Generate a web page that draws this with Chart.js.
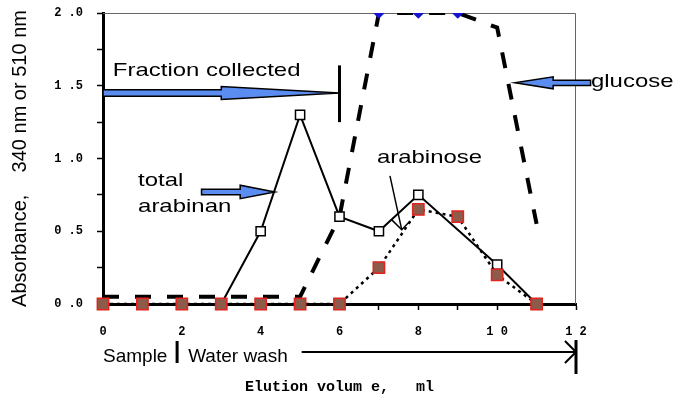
<!DOCTYPE html>
<html>
<head>
<meta charset="utf-8">
<script src="https://cdn.jsdelivr.net/npm/chart.js@4"></script>
<style>html,body{margin:0;padding:0;background:#fff}canvas{display:block}</style>
</head>
<body>
<canvas id="elutionChart" width="677" height="399"></canvas>
<script>
// elution volume, ml (one fraction per ml)
const volumes = [0, 1, 2, 3, 4, 5, 6, 7, 8, 9, 10, 11];
const totalArabinan = [0, 0, 0, 0, 0.5, 1.3, 0.6, 0.5, 0.75, null, 0.27, 0];
const arabinose = [0, 0, 0, 0, 0, 0, 0, 0.25, 0.65, 0.6, 0.2, 0];
const glucose = [0.05, 0.05, 0.05, 0.05, 0.05, 0.05, 0.6, 2.0, 2.0, 2.0, 1.9, 0.55];
const xTickLabels = [0, 2, 4, 6, 8, 10, 12];
const yTickLabels = [0, 0.5, 1.0, 1.5, 2.0];

const toPoints = (vals) => volumes.map((x, i) => ({ x, y: vals[i] }));
const arrowBlue = "#5b8cf0";
const labelFont = '19px "Liberation Sans", Arial, sans-serif';

function blockArrow(ctx, x0, x1, tip, y, s, h) {
    ctx.beginPath();
    ctx.moveTo(x0, y - s);
    ctx.lineTo(x1, y - s);
    ctx.lineTo(x1, y - h);
    ctx.lineTo(tip, y);
    ctx.lineTo(x1, y + h);
    ctx.lineTo(x1, y + s);
    ctx.lineTo(x0, y + s);
    ctx.closePath();
    ctx.fillStyle = arrowBlue;
    ctx.fill();
    ctx.lineWidth = 1.5;
    ctx.strokeStyle = "#000";
    ctx.stroke();
}

function wideText(ctx, text, x, y, sx) {
    ctx.save();
    ctx.fillStyle = "#000";
    ctx.translate(x, y);
    ctx.scale(sx, 1);
    ctx.fillText(text, 0, 0);
    ctx.restore();
}

function line(ctx, pts, w) {
    ctx.beginPath();
    ctx.moveTo(pts[0][0], pts[0][1]);
    for (let i = 1; i < pts.length; i++) ctx.lineTo(pts[i][0], pts[i][1]);
    ctx.lineWidth = w;
    ctx.strokeStyle = "#000";
    ctx.stroke();
}

const notes = {
    id: "notes",
    beforeDatasetsDraw(chart) {
        const { ctx, chartArea: a } = chart;
        ctx.save();
        ctx.strokeStyle = "#666";
        ctx.lineWidth = 1;
        ctx.beginPath();
        ctx.moveTo(a.left, a.top + 0.5);
        ctx.lineTo(a.right - 0.5, a.top + 0.5);
        ctx.lineTo(a.right - 0.5, a.bottom);
        ctx.stroke();
        ctx.restore();
    },
    afterDraw(chart) {
        const { ctx, chartArea: a, scales } = chart;
        const X = (v) => scales.x.getPixelForValue(v);
        const Y = (v) => scales.y.getPixelForValue(v);
        const b = a.bottom;
        ctx.save();
        ctx.font = labelFont;
        ctx.textAlign = "left";
        ctx.textBaseline = "alphabetic";

        // fraction collected
        blockArrow(ctx, X(0), X(3), X(6), Y(1.45), 3.3, 6.5);
        line(ctx, [[X(6), Y(1.64)], [X(6), Y(1.25)]], 3);
        wideText(ctx, "Fraction collected", X(0.25), Y(1.57), 1.26);

        // glucose
        blockArrow(ctx, X(12.37), X(11.42), X(10.45), Y(1.52), 2.7, 6);
        wideText(ctx, "glucose", X(12.38), Y(1.49), 1.26);

        // total arabinan
        blockArrow(ctx, X(2.5), X(3.48), X(4.36), Y(0.77), 2.7, 6.7);
        wideText(ctx, "total", X(0.89), Y(0.81), 1.26);
        wideText(ctx, "arabinan", X(0.89), Y(0.63), 1.26);

        // arabinose
        wideText(ctx, "arabinose", X(6.95), Y(0.97), 1.26);
        line(ctx, [[X(7.28), Y(0.88)], [X(7.58), Y(0.51)]], 1.5);
        line(ctx, [[X(7.32), Y(0.58)], [X(7.58), Y(0.51)], [X(7.79), Y(0.57)]], 1.5);

        // sample / water wash bar under the axis
        wideText(ctx, "Sample", X(0), b + 58, 1);
        line(ctx, [[X(1.88), b + 37], [X(1.88), b + 59]], 3);
        wideText(ctx, "Water wash", X(2.16), b + 58, 1);
        line(ctx, [[X(5.04), b + 48], [X(12), b + 48]], 2);
        line(ctx, [[X(11.72), b + 37], [X(12), b + 48], [X(11.72), b + 59]], 2);
        line(ctx, [[X(12), b + 36], [X(12), b + 70]], 3);
        ctx.restore();
    }
};

const tickFont = { family: "'Liberation Mono', 'Courier New', monospace", weight: "bold", size: 12 };

new Chart(document.getElementById("elutionChart"), {
    type: "line",
    data: {
        datasets: [
            {
                label: "arabinose",
                data: toPoints(arabinose),
                order: 0,
                clip: false,
                borderColor: "#000",
                borderWidth: 2.5,
                borderDash: [3, 4],
                pointStyle: "rect",
                pointRadius: 8,
                pointBackgroundColor: "#8e5a4a",
                pointBorderColor: "#e3231f",
                pointBorderWidth: 1.5
            },
            {
                label: "total arabinan",
                data: toPoints(totalArabinan),
                order: 1,
                clip: false,
                spanGaps: true,
                borderColor: "#000",
                borderWidth: 2,
                pointStyle: "rect",
                pointRadius: 6.5,
                pointBackgroundColor: "#fff",
                pointBorderColor: "#000",
                pointBorderWidth: 1.5
            },
            {
                label: "glucose",
                data: toPoints(glucose),
                order: 2,
                borderColor: "#000",
                borderWidth: 4,
                borderDash: [16, 16],
                pointStyle: "rectRot",
                pointRadius: glucose.map((v) => (v >= 2 ? 3 : 0)),
                pointBackgroundColor: "#1515d0",
                pointBorderColor: "#1515d0"
            }
        ]
    },
    options: {
        responsive: false,
        animation: false,
        layout: { padding: { top: 13, right: 101, left: 0, bottom: 0 } },
        plugins: { legend: { display: false }, tooltip: { enabled: false } },
        scales: {
            x: {
                type: "linear",
                min: 0,
                max: 12,
                afterFit: (s) => { s.height = 95; s.paddingLeft = 0; s.paddingRight = 0; },
                border: { color: "#000", width: 3 },
                grid: { drawOnChartArea: false, color: "#000", tickLength: 6, tickWidth: 1.5 },
                ticks: {
                    stepSize: 1,
                    padding: 15,
                    color: "#000",
                    font: tickFont,
                    maxRotation: 0,
                    autoSkip: false,
                    callback: (v) => (xTickLabels.includes(v) ? String(v).split("").join(" ") : "")
                },
                title: {
                    display: true,
                    text: "Elution volum e,   ml",
                    color: "#000",
                    font: { family: "'Liberation Mono', 'Courier New', monospace", weight: "bold", size: 15 },
                    padding: { top: 0, bottom: 3 }
                }
            },
            y: {
                min: 0,
                max: 2,
                afterFit: (s) => { s.width = 103; s.paddingTop = 0; s.paddingBottom = 0; },
                border: { color: "#000", width: 3 },
                grid: { drawOnChartArea: false, color: "#000", tickLength: 6, tickWidth: 1.5 },
                ticks: {
                    stepSize: 0.25,
                    padding: 14,
                    color: "#000",
                    font: tickFont,
                    autoSkip: false,
                    callback: (v) => (yTickLabels.includes(v) ? v.toFixed(1).replace(".", " .") : "")
                },
                title: {
                    display: true,
                    text: "Absorbance,    340 nm or 510 nm",
                    color: "#000",
                    font: { family: "'Liberation Sans', Arial, sans-serif", size: 20 },
                    padding: { top: 8, bottom: 0 }
                }
            }
        }
    },
    plugins: [notes]
});
</script>
</body>
</html>
